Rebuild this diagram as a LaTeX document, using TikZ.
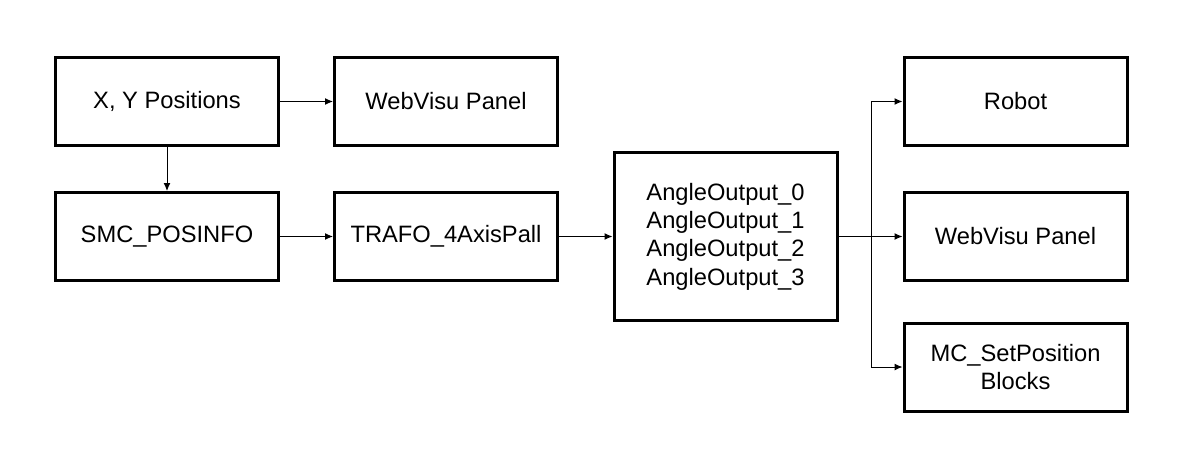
\documentclass[tikz,border=0pt]{standalone}
\usepackage{fontspec}
\setmainfont{Liberation Sans}
\usetikzlibrary{arrows.meta}
\begin{document}
\begin{tikzpicture}[x=1pt,y=-1pt,
  blk/.style={draw,line width=3pt,minimum width=223pt,minimum height=88pt,inner sep=0pt,align=center,font=\fontsize{23.7}{28.3}\selectfont},
  conn/.style={line width=1pt,-{Latex[length=8pt,width=7pt]}}]
\useasboundingbox (0,0) rectangle (1180,458);
\node[blk] (xy) at (167,101.5) {X, Y Positions};
\node[blk] (wv1) at (446,101.5) {WebVisu Panel};
\node[blk] (smc) at (167,236.5) {SMC\_POSINFO};
\node[blk] (tr) at (446,236.5) {TRAFO\_4AxisPall};
\node[blk,minimum height=168pt] (ang) at (725.5,236.5) {AngleOutput\_0\\AngleOutput\_1\\AngleOutput\_2\\AngleOutput\_3};
\node[blk] (rob) at (1015.5,101.5) {Robot};
\node[blk] (wv2) at (1015.5,236) {WebVisu Panel};
\node[blk] (mc) at (1015.5,367) {MC\_SetPosition\\Blocks};
\coordinate (j) at (871,236.5);
\draw[conn] (xy) -- (wv1);
\draw[conn] (xy) -- (smc);
\draw[conn] (smc) -- (tr);
\draw[conn] (tr) -- (ang);
\draw[conn] (ang.east) -- (wv2.west|-ang.east);
\draw[conn] (j) |- (rob.west);
\draw[conn] (j) |- (mc.west);
\end{tikzpicture}
\end{document}
